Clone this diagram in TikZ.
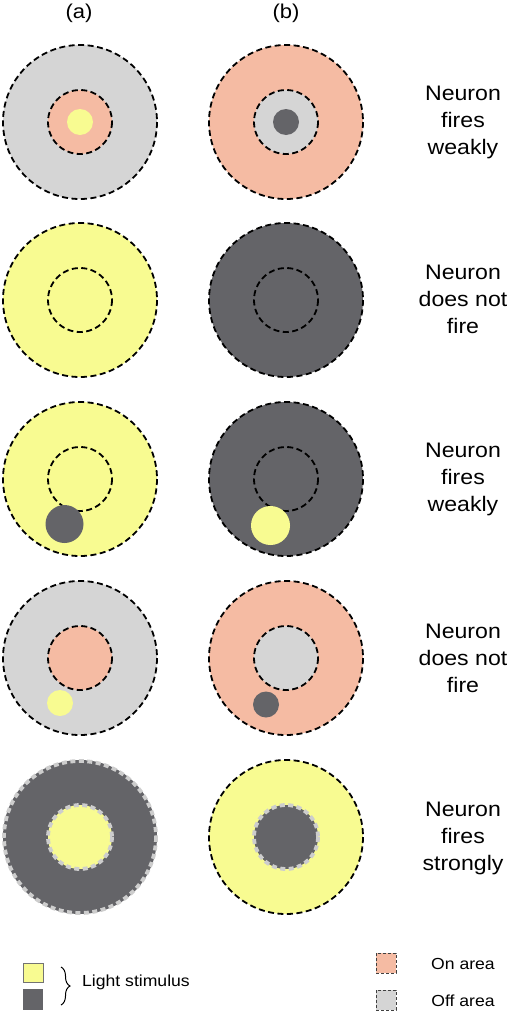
\documentclass[tikz,border=0pt]{standalone}
\usepackage{fontspec}
\setmainfont{Liberation Sans}[FakeStretch=1.1]
\usetikzlibrary{decorations.pathreplacing}
\definecolor{offgrey}{HTML}{D5D5D5}
\definecolor{onsalmon}{HTML}{F5BBA3}
\definecolor{lightyel}{HTML}{F8FB91}
\definecolor{darkstim}{HTML}{646468}
\definecolor{dashgrey}{HTML}{CDCDCD}
\tikzset{
  blackdash/.style={draw=black, line width=1.8pt, dash pattern=on 6pt off 3.5pt},
  greydash/.style={draw=dashgrey, line width=3.8pt, dash pattern=on 5pt off 3.5pt},
  lbl/.style={align=center, font=\fontsize{21}{27}\selectfont, inner sep=0pt},
  hdr/.style={font=\fontsize{20}{24}\selectfont, inner sep=0pt},
  legtxt/.style={font=\fontsize{16}{20}\selectfont, inner sep=0pt},
  legbox/.style={draw=black!75, line width=1pt, dash pattern=on 3pt off 2pt}
}
\begin{document}
\begin{tikzpicture}[x=1pt,y=-1pt]
\useasboundingbox (0,0) rectangle (510,1012);
\fill[white] (0,0) rectangle (510,1012);
% headers
\node[hdr] (ha) at (79,13) {(a)};
\node[hdr] (hb) at (286,13) {(b)};
% Row 1
\fill[offgrey] (80,122) circle (77);
\draw[blackdash] (80,122) circle (77);
\fill[onsalmon] (80,122) circle (32);
\draw[blackdash] (80,122) circle (32);
\fill[lightyel] (80,122) circle (13);
\fill[onsalmon] (286,122) circle (77);
\draw[blackdash] (286,122) circle (77);
\fill[offgrey] (286,122) circle (32);
\draw[blackdash] (286,122) circle (32);
\fill[darkstim] (286,122) circle (13);
\node[lbl] (l1) at (463,122) {Neuron\\fires\\weakly};
% Row 2
\fill[lightyel] (80,300) circle (77);
\draw[blackdash] (80,300) circle (77);
\draw[blackdash] (80,300) circle (32);
\fill[darkstim] (286,300) circle (77);
\draw[blackdash] (286,300) circle (77);
\draw[blackdash] (286,300) circle (32);
\node[lbl] (l2) at (463,299) {Neuron\\does not\\fire};
% Row 3
\fill[lightyel] (80,479) circle (77);
\draw[blackdash] (80,479) circle (77);
\draw[blackdash] (80,479) circle (32);
\fill[darkstim] (64.5,524) circle (19);
\fill[darkstim] (286,479) circle (77);
\draw[blackdash] (286,479) circle (77);
\draw[blackdash] (286,479) circle (32);
\fill[lightyel] (270.5,525.5) circle (19.5);
\node[lbl] (l3) at (463,479) {Neuron\\fires\\weakly};
% Row 4
\fill[offgrey] (80,658) circle (77);
\draw[blackdash] (80,658) circle (77);
\fill[onsalmon] (80,658) circle (32);
\draw[blackdash] (80,658) circle (32);
\fill[lightyel] (60,703) circle (13);
\fill[onsalmon] (286,658) circle (77);
\draw[blackdash] (286,658) circle (77);
\fill[offgrey] (286,658) circle (32);
\draw[blackdash] (286,658) circle (32);
\fill[darkstim] (266,704.5) circle (13);
\node[lbl] (l4) at (463,658) {Neuron\\does not\\fire};
% Row 5
\fill[darkstim] (80,837) circle (77);
\draw[greydash] (80,837) circle (76);
\fill[lightyel] (80,837) circle (32);
\draw[greydash] (80,837) circle (32);
\fill[lightyel] (286,837) circle (77);
\draw[blackdash] (286,837) circle (77);
\fill[darkstim] (286,837) circle (32);
\draw[greydash] (286,837) circle (32);
\node[lbl] (l5) at (463,838) {Neuron\\fires\\strongly};
% Legend
\draw[fill=lightyel, draw=black!55, line width=0.7pt] (23,963) rectangle (43,982);
\fill[darkstim] (23,989) rectangle (43,1010);
\coordinate (bt) at (61,967);
\coordinate (bb) at (61,1005);
\draw[line width=1pt, decorate, decoration={brace, amplitude=9pt}] (bt) -- (bb);
\node[legtxt, anchor=west] (ls) at (82,982) {Light stimulus};
\filldraw[fill=onsalmon, legbox] (376,953) rectangle (396,973);
\filldraw[fill=offgrey, legbox] (376,990) rectangle (396,1010);
\node[legtxt] (lon) at (463,964) {On area};
\node[legtxt] (loff) at (463,1001) {Off area};
\end{tikzpicture}
\end{document}
